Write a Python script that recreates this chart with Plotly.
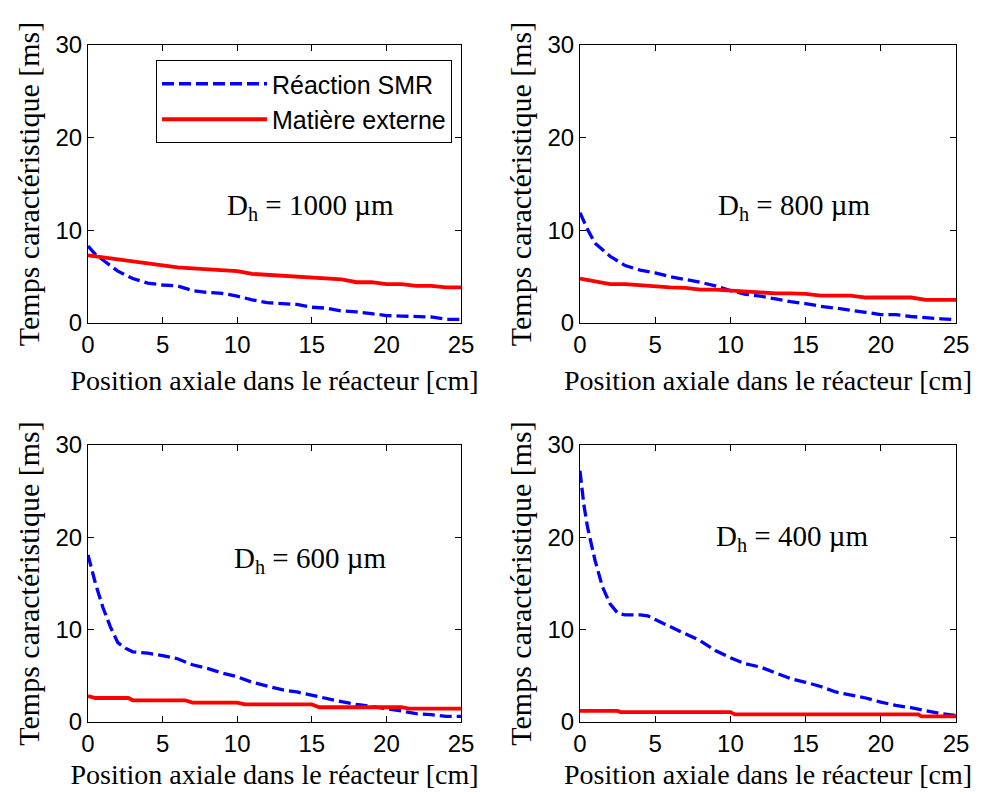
import plotly.graph_objects as go

# ---- data ----
x_smr_1000 = [0, 0.5, 1, 2, 3, 4, 5, 6, 7, 8, 9, 10, 11, 12, 13, 14, 15, 16, 17, 18, 19, 20, 21, 22, 23, 24, 25]
y_smr_1000 = [8.3, 7.4, 6.8, 5.6, 4.8, 4.3, 4.1, 4.0, 3.5, 3.3, 3.2, 2.9, 2.5, 2.2, 2.1, 2.0, 1.7, 1.6, 1.3, 1.2, 1.0, 0.8, 0.75, 0.7, 0.65, 0.4, 0.4]
x_ext_1000 = [0, 1, 2, 3, 4, 5, 6, 7, 8, 9, 10, 11, 12, 13, 14, 15, 16, 17, 18, 19, 20, 21, 22, 23, 24, 25]
y_ext_1000 = [7.3, 7.1, 6.8, 6.6, 6.5, 6.3, 6.0, 5.9, 5.8, 5.7, 5.6, 5.3, 5.2, 5.1, 5.0, 4.85, 4.8, 4.7, 4.4, 4.4, 4.2, 4.2, 4.0, 4.0, 3.85, 3.85]

x_smr_800 = [0, 0.5, 1, 2, 3, 4, 5, 6, 7, 8, 9, 10, 11, 12, 13, 14, 15, 16, 17, 18, 19, 20, 21, 22, 23, 24, 25]
y_smr_800 = [11.9, 10.1, 8.6, 7.2, 6.2, 5.7, 5.4, 5.0, 4.7, 4.4, 4.0, 3.5, 3.1, 2.9, 2.6, 2.3, 2.1, 1.8, 1.6, 1.4, 1.15, 0.9, 0.9, 0.7, 0.55, 0.45, 0.35]
x_ext_800 = [0, 1, 2, 3, 4, 5, 6, 7, 8, 9, 10, 11, 12, 13, 14, 15, 16, 17, 18, 19, 20, 21, 22, 23, 24, 25]
y_ext_800 = [4.8, 4.5, 4.2, 4.2, 4.05, 4.0, 3.85, 3.8, 3.6, 3.6, 3.5, 3.35, 3.35, 3.2, 3.2, 3.15, 2.95, 2.95, 2.95, 2.75, 2.75, 2.75, 2.75, 2.5, 2.5, 2.5]

x_smr_600 = [0, 0.5, 1, 1.5, 2, 2.5, 3, 4, 5, 6, 7, 8, 9, 10, 11, 12, 13, 14, 15, 16, 17, 18, 19, 20, 21, 22, 23, 24, 25]
y_smr_600 = [18.1, 15.0, 12.4, 10.3, 8.6, 8.0, 7.6, 7.45, 7.2, 6.85, 6.2, 5.8, 5.3, 4.9, 4.3, 3.9, 3.5, 3.25, 2.9, 2.5, 2.2, 1.9, 1.7, 1.45, 1.2, 0.9, 0.8, 0.6, 0.6]
x_ext_600 = [0, 0.5, 2.7, 3, 6.5, 7, 10, 10.5, 15, 15.5, 21, 21.5, 25]
y_ext_600 = [2.8, 2.6, 2.6, 2.35, 2.35, 2.1, 2.1, 1.9, 1.9, 1.6, 1.6, 1.45, 1.45]

x_smr_400 = [0, 0.25, 0.5, 1, 1.5, 2, 2.5, 3, 4, 4.5, 5, 6, 7, 8, 9, 10, 11, 12, 13, 14, 15, 16, 17, 18, 19, 20, 21, 22, 23, 24, 25]
y_smr_400 = [27.2, 23.6, 21.1, 17.5, 14.6, 12.8, 11.8, 11.6, 11.6, 11.5, 11.1, 10.3, 9.55, 8.8, 7.75, 6.95, 6.3, 5.95, 5.3, 4.7, 4.3, 3.85, 3.25, 2.9, 2.6, 2.15, 1.8, 1.55, 1.25, 0.9, 0.7]
x_ext_400 = [0, 2.5, 2.7, 10, 10.3, 22.5, 22.7, 25]
y_ext_400 = [1.2, 1.2, 1.08, 1.08, 0.83, 0.83, 0.6, 0.6]

panels = [
    ("1000", x_smr_1000, y_smr_1000, x_ext_1000, y_ext_1000),
    ("800", x_smr_800, y_smr_800, x_ext_800, y_ext_800),
    ("600", x_smr_600, y_smr_600, x_ext_600, y_ext_600),
    ("400", x_smr_400, y_smr_400, x_ext_400, y_ext_400),
]
label_pos = [(14.9, 12.5), (14.2, 12.5), (14.9, 17.5), (14.1, 19.9)]

x_ticks = [0, 5, 10, 15, 20, 25]
y_ticks = [0, 10, 20, 30]
x_title = "Position axiale dans le réacteur [cm]"
y_title = "Temps caractéristique [ms]"
name_smr = "Réaction SMR"
name_ext = "Matière externe"

SERIF = "Liberation Serif, Times New Roman, serif"
SANS = "Liberation Sans, Arial, sans-serif"

# page body has an 8px margin: figure coordinates = screen coordinates - 8
OFF = 8
W, H = 966, 782
xdoms = [[(88 - OFF) / W, (461 - OFF) / W], [(580 - OFF) / W, (956 - OFF) / W]]
ydoms = [[1 - (323 - OFF) / H, 1 - (45 - OFF) / H], [1 - (722 - OFF) / H, 1 - (445 - OFF) / H]]

fig = go.Figure()
for i, (dh, xs, ys, xe, ye) in enumerate(panels):
    k = "" if i == 0 else str(i + 1)
    fig.add_trace(go.Scatter(x=xs, y=ys, mode="lines", name=name_smr, showlegend=(i == 0),
                             line=dict(color="#0000ff", width=3.3, dash="12px,5px"),
                             xaxis="x" + k, yaxis="y" + k))
    fig.add_trace(go.Scatter(x=xe, y=ye, mode="lines", name=name_ext, showlegend=(i == 0),
                             line=dict(color="#ff0000", width=3.8),
                             xaxis="x" + k, yaxis="y" + k))
    col, row = i % 2, i // 2
    axcommon = dict(showline=True, linecolor="black", linewidth=1, mirror="ticks",
                    ticks="inside", ticklen=6, tickcolor="black", showgrid=False, zeroline=False,
                    automargin=False,
                    tickfont=dict(family=SANS, size=24, color="black"))
    fig.layout["xaxis" + k] = dict(domain=xdoms[col], range=[0, 25], tickvals=x_ticks,
                                   anchor="y" + k,
                                   title=dict(text=x_title, standoff=13,
                                              font=dict(family=SERIF, size=28, color="black")),
                                   **axcommon)
    fig.layout["yaxis" + k] = dict(domain=ydoms[row], range=[0, 30], tickvals=y_ticks,
                                   anchor="x" + k,
                                   title=dict(text=y_title, standoff=6,
                                              font=dict(family=SERIF, size=30, color="black")),
                                   **axcommon)
    lx, ly = label_pos[i]
    fig.add_annotation(x=lx, y=ly, xref="x" + k, yref="y" + k, showarrow=False,
                       text="D<sub>h</sub> = " + dh + " µm",
                       font=dict(family=SERIF, size=29, color="black"))

fig.update_layout(
    width=W, height=H, margin=dict(l=0, r=0, t=0, b=0),
    paper_bgcolor="white", plot_bgcolor="white",
    legend=dict(x=(452 - OFF) / W, y=1 - (60 - OFF) / H, xanchor="right", yanchor="top",
                bordercolor="black", borderwidth=1, bgcolor="white",
                font=dict(family=SANS, size=25, color="black"),
                itemwidth=105, tracegroupgap=0),
)
fig.write_html("out.html")
